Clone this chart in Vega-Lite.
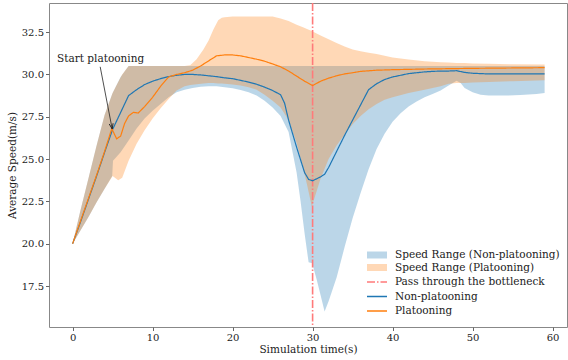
{
  "$schema": "https://vega.github.io/schema/vega-lite/v6.json",
  "width": 518,
  "height": 324,
  "autosize": "none",
  "padding": {"left": 49, "top": 3, "right": 1, "bottom": 33},
  "background": "white",
  "config": {
    "view": {"stroke": "#888888", "strokeWidth": 1},
    "axis": {"labelFont": "'DejaVu Serif', 'Liberation Serif', serif", "titleFont": "'DejaVu Serif', 'Liberation Serif', serif", "labelFontSize": 10, "titleFontSize": 10.5, "titleFontWeight": "normal", "labelColor": "#222222", "titleColor": "#222222", "domain": false, "tickColor": "#666666", "tickSize": 3.5, "grid": false, "labelPadding": 2},
    "legend": {"labelFont": "'DejaVu Serif', 'Liberation Serif', serif", "labelFontSize": 10.5, "labelColor": "#222222", "labelLimit": 400, "symbolSize": 100, "rowPadding": 0.5, "labelOffset": 12, "symbolOffset": 5, "padding": 4}
  },
  "datasets": {
    "nbBand": [
      {"t": 0, "lo": 20, "hi": 20}, {"t": 1, "lo": 20.8, "hi": 22.0}, {"t": 2, "lo": 21.6, "hi": 23.9}, {"t": 3, "lo": 22.45, "hi": 25.8}, {"t": 4, "lo": 23.25, "hi": 27.6}, {"t": 4.95, "lo": 24.0, "hi": 28.85}, {"t": 5.05, "lo": 24.9, "hi": 28.95}, {"t": 6, "lo": 25.4, "hi": 29.85}, {"t": 7, "lo": 26.1, "hi": 30.5}, {"t": 8, "lo": 26.8, "hi": 30.5}, {"t": 9, "lo": 27.4, "hi": 30.5}, {"t": 10, "lo": 27.85, "hi": 30.5}, {"t": 11, "lo": 28.25, "hi": 30.5}, {"t": 12, "lo": 28.65, "hi": 30.5}, {"t": 13, "lo": 28.95, "hi": 30.5}, {"t": 14, "lo": 29.1, "hi": 30.5}, {"t": 15, "lo": 29.2, "hi": 30.5}, {"t": 16, "lo": 29.27, "hi": 30.5}, {"t": 17, "lo": 29.3, "hi": 30.5}, {"t": 18, "lo": 29.3, "hi": 30.5}, {"t": 19, "lo": 29.25, "hi": 30.5}, {"t": 20, "lo": 29.18, "hi": 30.5}, {"t": 21, "lo": 29.08, "hi": 30.5}, {"t": 22, "lo": 28.95, "hi": 30.5}, {"t": 23, "lo": 28.75, "hi": 30.5}, {"t": 24, "lo": 28.45, "hi": 30.5}, {"t": 25, "lo": 28.05, "hi": 30.5}, {"t": 26, "lo": 27.55, "hi": 30.5}, {"t": 27, "lo": 26.6, "hi": 30.5}, {"t": 27.5, "lo": 25.4, "hi": 30.5}, {"t": 28, "lo": 24.2, "hi": 30.5}, {"t": 28.5, "lo": 22.5, "hi": 30.5}, {"t": 29, "lo": 20.6, "hi": 30.5}, {"t": 29.5, "lo": 18.9, "hi": 30.5}, {"t": 29.95, "lo": 18.85, "hi": 30.5}, {"t": 30.5, "lo": 17.9, "hi": 30.5}, {"t": 31, "lo": 16.95, "hi": 30.5}, {"t": 31.5, "lo": 16.0, "hi": 30.5}, {"t": 32, "lo": 16.6, "hi": 30.5}, {"t": 33, "lo": 18.0, "hi": 30.5}, {"t": 34, "lo": 19.8, "hi": 30.5}, {"t": 35, "lo": 21.5, "hi": 30.5}, {"t": 36, "lo": 23.0, "hi": 30.5}, {"t": 37, "lo": 24.4, "hi": 30.5}, {"t": 38, "lo": 25.6, "hi": 30.5}, {"t": 39, "lo": 26.5, "hi": 30.5}, {"t": 40, "lo": 27.2, "hi": 30.5}, {"t": 41, "lo": 27.7, "hi": 30.5}, {"t": 42, "lo": 28.1, "hi": 30.5}, {"t": 43, "lo": 28.4, "hi": 30.5}, {"t": 44, "lo": 28.65, "hi": 30.5}, {"t": 45, "lo": 28.85, "hi": 30.5}, {"t": 46, "lo": 29.05, "hi": 30.5}, {"t": 47, "lo": 29.35, "hi": 30.5}, {"t": 48, "lo": 29.62, "hi": 30.5}, {"t": 48.5, "lo": 29.5, "hi": 30.5}, {"t": 49, "lo": 29.2, "hi": 30.5}, {"t": 50, "lo": 28.95, "hi": 30.5}, {"t": 51, "lo": 28.8, "hi": 30.5}, {"t": 52, "lo": 28.75, "hi": 30.5}, {"t": 54, "lo": 28.75, "hi": 30.5}, {"t": 56, "lo": 28.78, "hi": 30.5}, {"t": 58, "lo": 28.85, "hi": 30.5}, {"t": 59, "lo": 28.9, "hi": 30.5}
    ],
    "plBand": [
      {"t": 0, "lo": 20, "hi": 20}, {"t": 1, "lo": 20.8, "hi": 22.0}, {"t": 2, "lo": 21.6, "hi": 23.9}, {"t": 3, "lo": 22.45, "hi": 25.8}, {"t": 4, "lo": 23.25, "hi": 27.6}, {"t": 5, "lo": 24.0, "hi": 28.9}, {"t": 5.7, "lo": 23.75, "hi": 29.55}, {"t": 6.2, "lo": 23.9, "hi": 30.0}, {"t": 7, "lo": 24.9, "hi": 30.5}, {"t": 8, "lo": 25.9, "hi": 30.5}, {"t": 9, "lo": 26.7, "hi": 30.5}, {"t": 10, "lo": 27.4, "hi": 30.5}, {"t": 11, "lo": 28.0, "hi": 30.5}, {"t": 12, "lo": 28.55, "hi": 30.5}, {"t": 13, "lo": 29.05, "hi": 30.5}, {"t": 14, "lo": 29.3, "hi": 30.5}, {"t": 14.7, "lo": 29.37, "hi": 30.55}, {"t": 15.5, "lo": 29.42, "hi": 30.9}, {"t": 16.35, "lo": 29.47, "hi": 31.47}, {"t": 17, "lo": 29.5, "hi": 32.0}, {"t": 17.6, "lo": 29.49, "hi": 32.65}, {"t": 18.2, "lo": 29.47, "hi": 33.2}, {"t": 18.65, "lo": 29.46, "hi": 33.35}, {"t": 19, "lo": 29.45, "hi": 33.38}, {"t": 20, "lo": 29.4, "hi": 33.42}, {"t": 21, "lo": 29.35, "hi": 33.42}, {"t": 22, "lo": 29.25, "hi": 33.42}, {"t": 23, "lo": 29.1, "hi": 33.42}, {"t": 24, "lo": 28.8, "hi": 33.42}, {"t": 25, "lo": 28.45, "hi": 33.42}, {"t": 26, "lo": 28.05, "hi": 33.3}, {"t": 27, "lo": 27.3, "hi": 33.15}, {"t": 28, "lo": 25.95, "hi": 32.94}, {"t": 28.8, "lo": 24.5, "hi": 32.79}, {"t": 29.3, "lo": 23.5, "hi": 32.69}, {"t": 29.9, "lo": 22.2, "hi": 32.57}, {"t": 30.5, "lo": 23.1, "hi": 32.42}, {"t": 31, "lo": 23.85, "hi": 32.3}, {"t": 32, "lo": 25.0, "hi": 32.08}, {"t": 33, "lo": 25.8, "hi": 31.85}, {"t": 34, "lo": 26.45, "hi": 31.65}, {"t": 35, "lo": 27.05, "hi": 31.48}, {"t": 36, "lo": 27.55, "hi": 31.37}, {"t": 37, "lo": 27.95, "hi": 31.28}, {"t": 38, "lo": 28.25, "hi": 31.2}, {"t": 39, "lo": 28.5, "hi": 31.1}, {"t": 40, "lo": 28.65, "hi": 31.0}, {"t": 42, "lo": 28.9, "hi": 30.88}, {"t": 44, "lo": 29.1, "hi": 30.78}, {"t": 46, "lo": 29.3, "hi": 30.72}, {"t": 47, "lo": 29.45, "hi": 30.7}, {"t": 48, "lo": 29.5, "hi": 30.68}, {"t": 49, "lo": 29.5, "hi": 30.67}, {"t": 50, "lo": 29.52, "hi": 30.65}, {"t": 52, "lo": 29.55, "hi": 30.63}, {"t": 55, "lo": 29.6, "hi": 30.6}, {"t": 59, "lo": 29.65, "hi": 30.58}
    ],
    "nbLine": [
      {"t": 0, "v": 20}, {"t": 1, "v": 21.3}, {"t": 2, "v": 22.65}, {"t": 3, "v": 24.0}, {"t": 4, "v": 25.4}, {"t": 5, "v": 26.75}, {"t": 6, "v": 27.75}, {"t": 7, "v": 28.75}, {"t": 8, "v": 29.1}, {"t": 9, "v": 29.4}, {"t": 10, "v": 29.6}, {"t": 11, "v": 29.75}, {"t": 12, "v": 29.87}, {"t": 13, "v": 29.95}, {"t": 14, "v": 30.0}, {"t": 15, "v": 30.0}, {"t": 16, "v": 29.97}, {"t": 17, "v": 29.92}, {"t": 18, "v": 29.87}, {"t": 19, "v": 29.8}, {"t": 20, "v": 29.75}, {"t": 21, "v": 29.65}, {"t": 22, "v": 29.55}, {"t": 23, "v": 29.42}, {"t": 24, "v": 29.25}, {"t": 25, "v": 29.05}, {"t": 26, "v": 28.8}, {"t": 26.5, "v": 28.3}, {"t": 27, "v": 27.3}, {"t": 28, "v": 25.7}, {"t": 29, "v": 24.2}, {"t": 29.5, "v": 23.8}, {"t": 30, "v": 23.72}, {"t": 31, "v": 23.95}, {"t": 31.5, "v": 24.1}, {"t": 32, "v": 24.5}, {"t": 33, "v": 25.45}, {"t": 34, "v": 26.4}, {"t": 35, "v": 27.3}, {"t": 36, "v": 28.2}, {"t": 37, "v": 29.1}, {"t": 38, "v": 29.45}, {"t": 39, "v": 29.7}, {"t": 40, "v": 29.85}, {"t": 41, "v": 29.95}, {"t": 42, "v": 30.05}, {"t": 43, "v": 30.1}, {"t": 44, "v": 30.15}, {"t": 45, "v": 30.18}, {"t": 46, "v": 30.2}, {"t": 47, "v": 30.2}, {"t": 48, "v": 30.22}, {"t": 49, "v": 30.12}, {"t": 50, "v": 30.07}, {"t": 51, "v": 30.05}, {"t": 52, "v": 30.03}, {"t": 55, "v": 30.03}, {"t": 59, "v": 30.03}
    ],
    "plLine": [
      {"t": 0, "v": 20}, {"t": 1, "v": 21.35}, {"t": 2, "v": 22.7}, {"t": 3, "v": 24.05}, {"t": 4, "v": 25.45}, {"t": 4.9, "v": 26.8}, {"t": 5.5, "v": 26.2}, {"t": 6, "v": 26.35}, {"t": 6.5, "v": 27.1}, {"t": 7, "v": 27.55}, {"t": 7.6, "v": 27.76}, {"t": 8.2, "v": 27.72}, {"t": 9, "v": 28.1}, {"t": 10, "v": 28.65}, {"t": 11, "v": 29.3}, {"t": 12, "v": 29.85}, {"t": 13, "v": 30.0}, {"t": 14, "v": 30.1}, {"t": 15, "v": 30.25}, {"t": 16, "v": 30.5}, {"t": 17, "v": 30.8}, {"t": 18, "v": 31.1}, {"t": 19, "v": 31.15}, {"t": 20, "v": 31.15}, {"t": 21, "v": 31.1}, {"t": 22, "v": 31.0}, {"t": 23, "v": 30.9}, {"t": 24, "v": 30.78}, {"t": 25, "v": 30.62}, {"t": 26, "v": 30.45}, {"t": 27, "v": 30.2}, {"t": 28, "v": 29.9}, {"t": 29, "v": 29.6}, {"t": 30, "v": 29.34}, {"t": 31, "v": 29.6}, {"t": 32, "v": 29.78}, {"t": 33, "v": 29.92}, {"t": 34, "v": 30.03}, {"t": 35, "v": 30.1}, {"t": 36, "v": 30.18}, {"t": 38, "v": 30.25}, {"t": 40, "v": 30.28}, {"t": 44, "v": 30.32}, {"t": 50, "v": 30.36}, {"t": 59, "v": 30.4}
    ],
    "bottleneck": [{"t": 30}],
    "note": [{"t": 3.5, "v": 30.92, "label": "Start platooning", "t1": 3.45, "v1": 30.45, "t2": 4.95, "v2": 26.78}]
  },
  "encoding": {
    "x": {"type": "quantitative", "scale": {"domain": [-2.95, 61.8], "nice": false, "zero": false}, "axis": {"values": [0, 10, 20, 30, 40, 50, 60], "title": "Simulation time(s)", "titlePadding": 2}},
    "y": {"type": "quantitative", "scale": {"domain": [15.08, 34.22], "nice": false, "zero": false}, "axis": {"values": [17.5, 20, 22.5, 25, 27.5, 30, 32.5], "format": ".1f", "title": "Average Speed(m/s)", "titlePadding": 4}}
  },
  "layer": [
    {
      "data": {"name": "nbBand"},
      "mark": {"type": "area", "opacity": 0.3},
      "encoding": {
        "x": {"field": "t", "type": "quantitative"},
        "y": {"field": "lo", "type": "quantitative"},
        "y2": {"field": "hi"},
        "fill": {
          "datum": "Speed Range (Non-platooning)", "type": "nominal",
          "scale": {"domain": ["Speed Range (Non-platooning)", "Speed Range (Platooning)"], "range": ["#1f77b4", "#ff7f0e"]},
          "legend": {"title": null, "orient": "none", "legendX": 313, "legendY": 242, "fillColor": "rgba(255,255,255,0.85)", "symbolType": "M-2,-0.7H2V0.7H-2Z"}
        }
      }
    },
    {
      "data": {"name": "plBand"},
      "mark": {"type": "area", "opacity": 0.3},
      "encoding": {
        "x": {"field": "t", "type": "quantitative"},
        "y": {"field": "lo", "type": "quantitative"},
        "y2": {"field": "hi"},
        "fill": {"datum": "Speed Range (Platooning)", "type": "nominal"}
      }
    },
    {
      "data": {"name": "bottleneck"},
      "mark": {"type": "rule", "strokeWidth": 1.6},
      "encoding": {
        "x": {"field": "t", "type": "quantitative"},
        "stroke": {
          "datum": "Pass through the bottleneck", "type": "nominal",
          "scale": {"domain": ["Pass through the bottleneck", "Non-platooning", "Platooning"], "range": ["#ff7a7a", "#1f77b4", "#ff7f0e"]},
          "legend": {"title": null, "orient": "none", "legendX": 313, "legendY": 269, "rowPadding": 2.5, "symbolType": "M-2,0H2", "symbolStrokeWidth": 1.3}
        },
        "strokeDash": {
          "datum": "Pass through the bottleneck", "type": "nominal",
          "scale": {"domain": ["Pass through the bottleneck", "Non-platooning", "Platooning"], "range": [[8, 2, 1.5, 2], [1, 0], [1, 0]]},
          "legend": {"title": null, "orient": "none", "legendX": 313, "legendY": 269, "rowPadding": 2.5, "symbolType": "M-2,0H2", "symbolStrokeWidth": 1.3}
        }
      }
    },
    {
      "data": {"name": "nbLine"},
      "mark": {"type": "line", "strokeWidth": 1.2},
      "encoding": {
        "x": {"field": "t", "type": "quantitative"},
        "y": {"field": "v", "type": "quantitative"},
        "stroke": {"datum": "Non-platooning", "type": "nominal"},
        "strokeDash": {"datum": "Non-platooning", "type": "nominal"}
      }
    },
    {
      "data": {"name": "plLine"},
      "mark": {"type": "line", "strokeWidth": 1.2},
      "encoding": {
        "x": {"field": "t", "type": "quantitative"},
        "y": {"field": "v", "type": "quantitative"},
        "stroke": {"datum": "Platooning", "type": "nominal"},
        "strokeDash": {"datum": "Platooning", "type": "nominal"}
      }
    },
    {
      "data": {"name": "note"},
      "mark": {"type": "rule", "color": "#222222", "strokeWidth": 0.8},
      "encoding": {
        "x": {"field": "t1", "type": "quantitative"},
        "y": {"field": "v1", "type": "quantitative"},
        "x2": {"field": "t2"},
        "y2": {"field": "v2"}
      }
    },
    {
      "data": {"name": "note"},
      "mark": {"type": "point", "shape": "M-0.5,-1.4L0,0L0.5,-1.4", "filled": false, "stroke": "#222222", "strokeWidth": 0.9, "size": 60, "angle": 349, "opacity": 1},
      "encoding": {
        "x": {"field": "t2", "type": "quantitative"},
        "y": {"field": "v2", "type": "quantitative"}
      }
    },
    {
      "data": {"name": "note"},
      "mark": {"type": "text", "font": "'DejaVu Serif', 'Liberation Serif', serif", "fontSize": 10.5, "color": "#222222", "align": "center", "baseline": "middle"},
      "encoding": {
        "x": {"field": "t", "type": "quantitative"},
        "y": {"field": "v", "type": "quantitative"},
        "text": {"field": "label"}
      }
    }
  ]
}
